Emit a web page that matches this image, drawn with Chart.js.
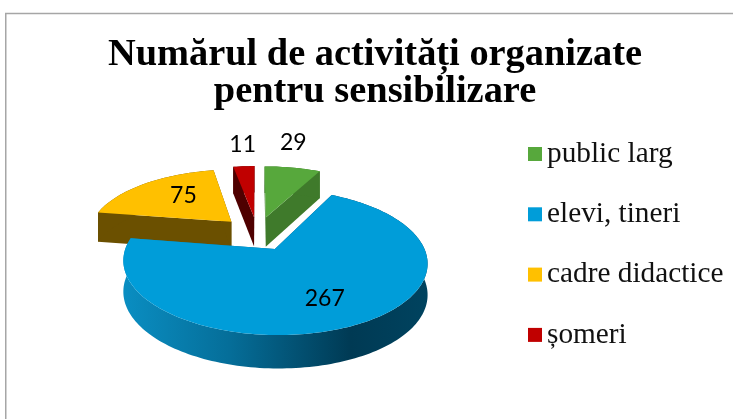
<!DOCTYPE html>
<html>
<head>
<meta charset="utf-8">
<style>
  html, body { margin: 0; padding: 0; background: #fff; overflow: hidden; }
  canvas { display: block; }
</style>
</head>
<body>
<canvas id="myChart" width="733" height="419"></canvas>
<script src="https://cdn.jsdelivr.net/npm/chart.js@4/dist/chart.umd.min.js"></script>
<script>
var titleLines = ['Numărul de activități organizate', 'pentru sensibilizare'];
var categories = ['public larg', 'elevi, tineri', 'cadre didactice', 'șomeri'];
var values = [29, 267, 75, 11];
var topColors = ['#57A83C', '#009DD9', '#FFC000', '#C00000'];
var sideColors = ['#3F7A2B', '#0A7FAE', '#6B5000', '#4F0000'];

// where each number sits: distance from the slice tip (in radii) and a small nudge
var labelDist = [1.65, 0.67, 0.55, 1.65];
var labelNudge = [[-13, 1], [-3, 2], [2, -4], [4, 4]];

// the pie lies on a tilted plane, this is the perspective of that plane
var view = { x: 257.3, y: 233.3, a: 143.6, b: 65, p: 0.173 };

function project(u, v) {
    var w = 1 - view.p * v;
    return { x: view.x + view.a * u / w, y: view.y + view.b * v / w, depth: 46 - 16 * w };
}

// outline of one slice in plane units, read from the arc the library laid out
function sliceShape(arc) {
    var mid = (arc.startAngle + arc.endAngle) / 2;
    var off = (arc.options.offset || 0) / arc.outerRadius;
    var tipU = Math.cos(mid) * off;
    var tipV = Math.sin(mid) * off;
    var rim = [];
    var steps = Math.max(4, Math.round((arc.endAngle - arc.startAngle) * 40));
    for (let i = 0; i <= steps; i++) {
        let a = arc.startAngle + (arc.endAngle - arc.startAngle) * i / steps;
        rim.push(project(tipU + Math.cos(a), tipV + Math.sin(a)));
    }
    return { mid: mid, tipU: tipU, tipV: tipV, tip: project(tipU, tipV), rim: rim };
}

function fillPoly(ctx, pts, color) {
    ctx.beginPath();
    pts.forEach((p, i) => { if (i == 0) ctx.moveTo(p.x, p.y); else ctx.lineTo(p.x, p.y); });
    ctx.closePath();
    ctx.fillStyle = color;
    ctx.fill();
}

function wall(ctx, line, color) {
    var lower = line.map(p => ({ x: p.x, y: p.y + p.depth })).reverse();
    fillPoly(ctx, line.concat(lower), color);
}

var pie3d = {
    id: 'pie3d',
    beforeDatasetsDraw(chart) {
        var ctx = chart.ctx;
        var arcs = chart.getDatasetMeta(0).data;
        var shapes = arcs.map(sliceShape);

        // the far slices first, the big front one on top of them
        [2, 3, 0, 1].forEach(i => {
            var s = shapes[i];
            var side = sideColors[i];
            if (i == 1) {
                var grad = ctx.createLinearGradient(123, 0, 427, 0);
                grad.addColorStop(0, '#0A8EC2');
                grad.addColorStop(0.35, '#056E99');
                grad.addColorStop(0.75, '#003A54');
                grad.addColorStop(1, '#00435F');
                side = grad;
            }
            wall(ctx, [s.tip, s.rim[0]], side);
            wall(ctx, [s.tip, s.rim[s.rim.length - 1]], side);
            wall(ctx, s.rim, side);
            fillPoly(ctx, [s.tip].concat(s.rim), topColors[i]);
        });

        ctx.save();
        ctx.font = '23px Lato';
        ctx.fillStyle = '#000';
        ctx.textAlign = 'center';
        ctx.textBaseline = 'middle';
        shapes.forEach((s, i) => {
            var p = project(s.tipU + Math.cos(s.mid) * labelDist[i], s.tipV + Math.sin(s.mid) * labelDist[i]);
            ctx.fillText(values[i], p.x + labelNudge[i][0], p.y + labelNudge[i][1]);
        });
        ctx.restore();
        return false;
    }
};

// frame and legend
var frame = {
    id: 'frame',
    beforeDraw(chart) {
        var ctx = chart.ctx;
        ctx.save();
        ctx.strokeStyle = '#A6A6A6';
        ctx.lineWidth = 1.5;
        ctx.beginPath();
        ctx.moveTo(5.75, 419);
        ctx.lineTo(5.75, 13.5);
        ctx.lineTo(733, 13.5);
        ctx.stroke();
        ctx.restore();
    },
    afterDraw(chart) {
        var ctx = chart.ctx;
        ctx.save();
        ctx.font = '29.3px "Liberation Serif"';
        ctx.textBaseline = 'middle';
        categories.forEach((c, i) => {
            var y = 154 + i * 60.3;
            ctx.fillStyle = topColors[i];
            ctx.fillRect(528, y - 7, 14, 14);
            ctx.fillStyle = '#111';
            ctx.fillText(c, 547, y);
        });
        ctx.restore();
    }
};

new Chart(document.getElementById('myChart').getContext('2d'), {
    type: 'pie',
    data: {
        labels: categories,
        datasets: [{
            data: values,
            backgroundColor: topColors,
            offset: [26, 26, 26, 26],
            borderWidth: 0
        }]
    },
    options: {
        responsive: false,
        animation: false,
        radius: 100,
        events: [],
        layout: { padding: { left: 17 } },
        plugins: {
            legend: { display: false },
            tooltip: { enabled: false },
            title: {
                display: true,
                text: titleLines,
                color: '#000',
                font: { family: '"Liberation Serif"', size: 38.4, weight: 'bold', lineHeight: 0.97 },
                padding: { top: 36, bottom: 10 }
            }
        }
    },
    plugins: [frame, pie3d]
});
</script>
</body>
</html>
